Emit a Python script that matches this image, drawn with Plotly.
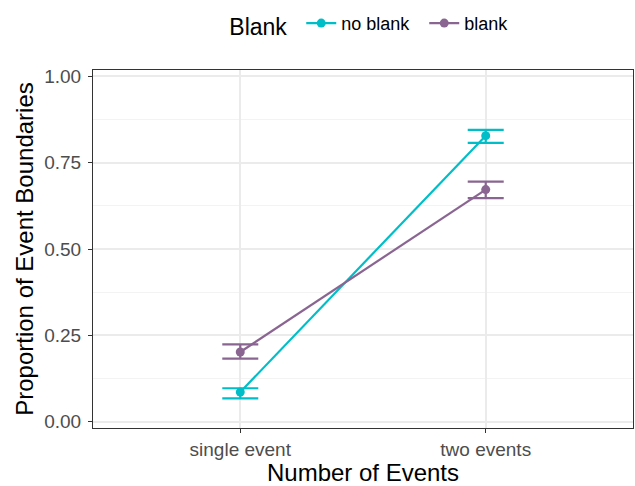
import plotly.graph_objects as go

categories = ["single event", "two events"]
series_names = ["no blank", "blank"]
series_colors = ["#00BEC8", "#8A6592"]

no_blank_mean = [0.086, 0.828]
no_blank_low = [0.068, 0.807]
no_blank_high = [0.097, 0.845]

blank_mean = [0.202, 0.672]
blank_low = [0.183, 0.647]
blank_high = [0.224, 0.695]

y_ticks = [0.0, 0.25, 0.5, 0.75, 1.0]
y_tick_labels = ["0.00", "0.25", "0.50", "0.75", "1.00"]

x_pos = [1, 2]

fig = go.Figure()

series = [
    (series_names[0], series_colors[0], no_blank_mean, no_blank_low, no_blank_high),
    (series_names[1], series_colors[1], blank_mean, blank_low, blank_high),
]

for name, color, mean, low, high in series:
    fig.add_trace(go.Scatter(
        x=x_pos, y=mean, name=name, mode="lines+markers",
        line=dict(color=color, width=2.2),
        marker=dict(color=color, size=9),
        error_y=dict(
            type="data", symmetric=False,
            array=[h - m for h, m in zip(high, mean)],
            arrayminus=[m - l for m, l in zip(mean, low)],
            color=color, thickness=2.2, width=18,
        ),
    ))

font_family = "Liberation Sans, Arial, sans-serif"
tick_size = 19
title_size = 24

fig.update_layout(
    width=635, height=486,
    margin=dict(l=93, r=2, t=70, b=58),
    paper_bgcolor="white", plot_bgcolor="white",
    font=dict(family=font_family, color="#000000"),
    showlegend=True,
    legend=dict(
        orientation="h", x=0.545, xanchor="center", y=0.99, yanchor="top",
        yref="container",
        title=dict(text="Blank ", font=dict(size=23, color="black"), side="left"),
        font=dict(size=18, color="black"),
        itemwidth=30,
        entrywidth=78,
    ),
    xaxis=dict(
        range=[0.4, 2.6],
        tickmode="array", tickvals=x_pos, ticktext=categories,
        tickfont=dict(size=tick_size, color="#4D4D4D"),
        ticks="outside", ticklen=4, tickwidth=1, tickcolor="#333333",
        showgrid=True, gridcolor="#EBEBEB", gridwidth=1.5,
        zeroline=False,
        showline=True, linecolor="#333333", linewidth=1, mirror=True,
        title=dict(text="Number of Events", font=dict(size=title_size, color="black"), standoff=2),
    ),
    yaxis=dict(
        range=[-0.018, 1.018],
        tickmode="array", tickvals=y_ticks, ticktext=y_tick_labels,
        tickfont=dict(size=tick_size, color="#4D4D4D"),
        ticks="outside", ticklen=4, tickwidth=1, tickcolor="#333333",
        ticklabelstandoff=3,
        showgrid=True, gridcolor="#EBEBEB", gridwidth=1.5,
        minor=dict(dtick=0.125, tick0=0.125, showgrid=True, gridcolor="#F3F3F3", gridwidth=1, ticks=""),
        zeroline=False,
        showline=True, linecolor="#333333", linewidth=1, mirror=True,
        title=dict(text="Proportion of Event Boundaries", font=dict(size=title_size, color="black"), standoff=3),
    ),
)

fig.write_html("out.html")
